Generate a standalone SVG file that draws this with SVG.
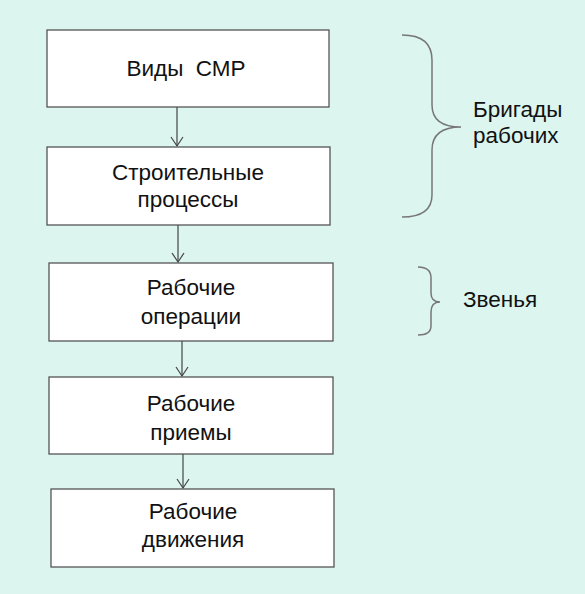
<svg xmlns="http://www.w3.org/2000/svg" width="585" height="594" viewBox="0 0 585 594">
<style>
.box{fill:#fff;stroke:#555;stroke-width:1.3}
.t{font-family:"Liberation Sans",Arial,sans-serif;font-size:22.5px;fill:#111;text-anchor:middle;white-space:pre}
.s{font-family:"Liberation Sans",Arial,sans-serif;font-size:22.5px;fill:#111}
.c{stroke:#444;stroke-width:1.2;fill:none}
.br{stroke:#777;stroke-width:1.5;fill:none}
</style>
<defs>
<marker id="a" markerWidth="14" markerHeight="14" refX="11" refY="7" orient="auto" markerUnits="userSpaceOnUse" viewBox="0 0 14 14">
<path d="M2,1 L11,7 L2,13" fill="none" stroke="#444" stroke-width="1.2"/>
</marker>
</defs>
<rect width="585" height="594" fill="#dcf5ef"/>
<g id="connectors">
<line class="c" x1="177" y1="107" x2="177" y2="146" marker-end="url(#a)"/>
<line class="c" x1="178" y1="225" x2="178" y2="262" marker-end="url(#a)"/>
<line class="c" x1="182" y1="341" x2="182" y2="376" marker-end="url(#a)"/>
<line class="c" x1="183" y1="454" x2="183" y2="488" marker-end="url(#a)"/>
</g>
<g id="n1"><rect class="box" x="47" y="30" width="282" height="77"/><text class="t" x="186" y="76" xml:space="preserve">Виды  СМР</text></g>
<g id="n2"><rect class="box" x="47" y="147" width="283" height="78"/><text class="t" x="188" y="180">Строительные</text><text class="t" x="188" y="207">процессы</text></g>
<g id="n3"><rect class="box" x="49" y="263" width="284" height="78"/><text class="t" x="191" y="295">Рабочие</text><text class="t" x="191" y="324">операции</text></g>
<g id="n4"><rect class="box" x="49" y="377" width="284" height="77"/><text class="t" x="191" y="411">Рабочие</text><text class="t" x="191" y="440">приемы</text></g>
<g id="n5"><rect class="box" x="51" y="489" width="283" height="78"/><text class="t" x="193" y="519">Рабочие</text><text class="t" x="193" y="547">движения</text></g>
<g id="b1">
<path class="br" d="M402,35 Q432,35 432,60 L432,105 Q432,127 461,127 Q432,127 432,150 L432,195 Q432,217 402,217"/>
<text class="s" x="473" y="117">Бригады</text><text class="s" x="473" y="143">рабочих</text>
</g>
<g id="b2">
<path class="br" d="M418,267 Q431,267 431,278 L431,293 Q431,302 440,302 Q431,302 431,312 L431,326 Q431,335 418,335"/>
<text class="s" x="463" y="307">Звенья</text>
</g>
</svg>
